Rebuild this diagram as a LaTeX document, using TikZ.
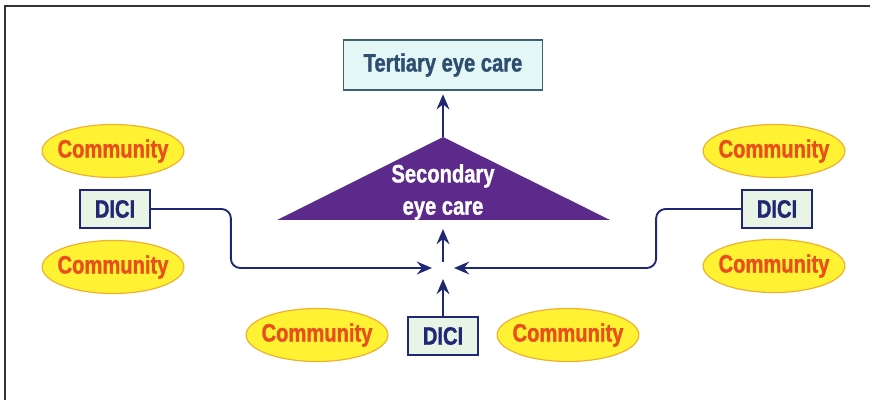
\documentclass[tikz,border=0pt]{standalone}
\usepackage{fontspec}
\newfontfamily\condfont{Liberation Sans}[FakeStretch=0.8, BoldFeatures={FakeBold=1.2}]
\usetikzlibrary{arrows.meta,shapes.geometric}
\definecolor{navy}{RGB}{32,40,115}
\definecolor{commfill}{RGB}{255,242,50}
\definecolor{commline}{RGB}{240,175,45}
\definecolor{commtext}{RGB}{232,78,30}
\definecolor{dicifill}{RGB}{232,244,230}
\definecolor{terfill}{RGB}{228,247,247}
\definecolor{terline}{RGB}{62,95,110}
\definecolor{tertext}{RGB}{45,78,110}
\definecolor{secfill}{RGB}{92,42,138}
\tikzset{
  comm/.style={ellipse, draw=commline, fill=commfill, line width=1pt, minimum height=1.59cm,
    inner xsep=-4.5pt, text=commtext, font=\condfont\bfseries\fontsize{21.5}{25}\selectfont},
  dici/.style={draw=navy, fill=dicifill, line width=1.5pt, minimum width=2.1cm,
    minimum height=1.14cm, text=navy, font=\condfont\bfseries\fontsize{21.5}{25}\selectfont},
  link/.style={draw=navy, line width=1.6pt, -{Stealth[length=13pt,width=11pt,inset=4.5pt]}}
}
\begin{document}
\begin{tikzpicture}[x=0.03cm, y=-0.03cm]

      \useasboundingbox (0,0) rectangle (870,400);

      % Frame
      \draw[line width=1.8pt, draw=black!80] (5,400) -- (5,6) -- (870,6);

      % Levels
      \node[draw=terline, fill=terfill, line width=1.3pt, minimum width=5.97cm, minimum height=1.5cm,
        text=tertext, font=\condfont\bfseries\fontsize{21.5}{25}\selectfont] (ter) at (443,65) {Tertiary eye care};
      \fill[secfill] (277,220) -- (443,137) -- (610,220) -- cycle;
      \node[text=white, align=center, font=\condfont\bfseries\fontsize{21.5}{27.5}\selectfont] (sec) at (443,192) {Secondary\\eye care};
      \coordinate (apex) at (443,137);
      \coordinate (secb) at (443,229);

      % DICI boxes
      \node[dici] (dl) at (115,209) {DICI};
      \node[dici] (dr) at (777,209) {DICI};
      \node[dici] (db) at (443,336) {DICI};

      % Communities
      \node[comm] (cl1) at (113,151) {Community};
      \node[comm] (cl2) at (113,267) {Community};
      \node[comm] (cr1) at (774,151) {Community};
      \node[comm] (cr2) at (774,266) {Community};
      \node[comm] (cb1) at (317,335) {Community};
      \node[comm] (cb2) at (568,335) {Community};

      % Meeting point
      \coordinate (inl) at (432,268);
      \coordinate (inr) at (454,268);
      \coordinate (inb) at (443,279);
      \coordinate (outt) at (443,262);

      % Links
      \draw[link, rounded corners=8pt] (dl.east) -- ++(80,0) |- (inl);
      \draw[link, rounded corners=8pt] (dr.west) -- ++(-85,0) |- (inr);
      \draw[link] (db.north) -- (inb);
      \draw[link] (outt) -- (secb);
      \draw[link, shorten >=3pt] (apex) -- (ter.south);

    \end{tikzpicture}
\end{document}
